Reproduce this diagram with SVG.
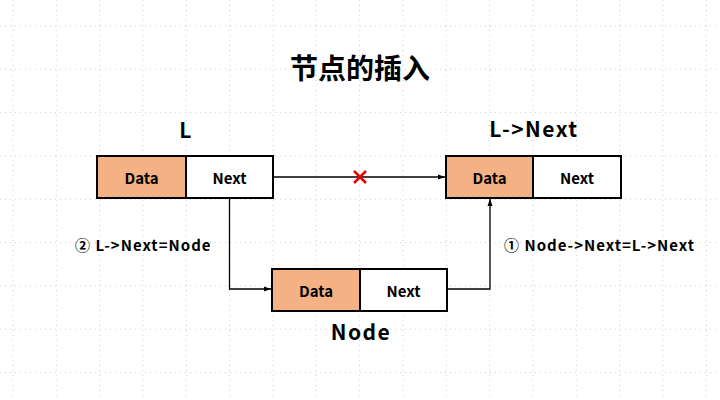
<svg xmlns="http://www.w3.org/2000/svg" width="720" height="400" viewBox="0 0 720 400">
<style>
.grid{stroke:#d0d0d0;stroke-width:1;stroke-dasharray:1 4;fill:none}
.box{stroke:#000;stroke-width:2}
.data{fill:#f4b183}
.next{fill:#fff}
.t{font-family:"Noto Sans CJK SC","Open Sans",sans-serif;font-weight:bold;fill:#000;text-anchor:middle;dominant-baseline:central}
.cell{font-size:15px}
.head{font-size:21px;letter-spacing:1.5px}
.lab{font-size:15px;letter-spacing:1px;text-anchor:start}
.conn{stroke:#000;stroke-width:1.3;fill:none}
</style>
<defs>
<marker id="arr" markerWidth="8" markerHeight="8" refX="7" refY="4" orient="auto" markerUnits="userSpaceOnUse">
<path d="M0,1.5 L7,4 L0,6.5 Z" fill="#000"/>
</marker>
</defs>
<rect width="720" height="400" fill="#fff"/>
<g id="grid">
<path class="grid" d="M13,0V400M56.3,0V400M99.6,0V400M143,0V400M186.3,0V400M229.6,0V400M273,0V400M316.3,0V400M359.6,0V400M403,0V400M446.3,0V400M489.6,0V400M533,0V400M576.3,0V400M619.6,0V400M663,0V400M706.3,0V400"/>
<path class="grid" d="M0,26H720M0,69.3H720M0,112.6H720M0,156H720M0,199.3H720M0,242.6H720M0,286H720M0,329.3H720M0,372.6H720"/>
</g>
<text class="t" x="360" y="67" font-size="28">节点的插入</text>
<g id="connectors">
<line class="conn" x1="274" y1="177" x2="445" y2="177" marker-end="url(#arr)"/>
<path class="conn" d="M229.5,199 V289 H271" marker-end="url(#arr)"/>
<path class="conn" d="M448,289 H490 V199" marker-end="url(#arr)"/>
<path d="M354,171 L366,183 M366,171 L354,183" stroke="#e60000" stroke-width="2.5"/>
</g>
<g id="nodeL">
<rect class="box data" x="97" y="156" width="89" height="42"/>
<rect class="box next" x="186" y="156" width="87" height="42"/>
<text class="t cell" x="141.5" y="177">Data</text>
<text class="t cell" x="229.5" y="177">Next</text>
<text class="t head" x="186" y="129">L</text>
</g>
<g id="nodeLNext">
<rect class="box data" x="446" y="156" width="87" height="42"/>
<rect class="box next" x="533" y="156" width="88" height="42"/>
<text class="t cell" x="489.5" y="177">Data</text>
<text class="t cell" x="577" y="177">Next</text>
<text class="t head" x="534" y="128">L-&gt;Next</text>
</g>
<g id="nodeNode">
<rect class="box data" x="272" y="269" width="88" height="42"/>
<rect class="box next" x="360" y="269" width="87" height="42"/>
<text class="t cell" x="316" y="290">Data</text>
<text class="t cell" x="403.5" y="290">Next</text>
<text class="t head" x="361" y="331">Node</text>
</g>
<text class="t lab" x="75" y="244">② L-&gt;Next=Node</text>
<text class="t lab" x="504" y="244">① Node-&gt;Next=L-&gt;Next</text>
</svg>
